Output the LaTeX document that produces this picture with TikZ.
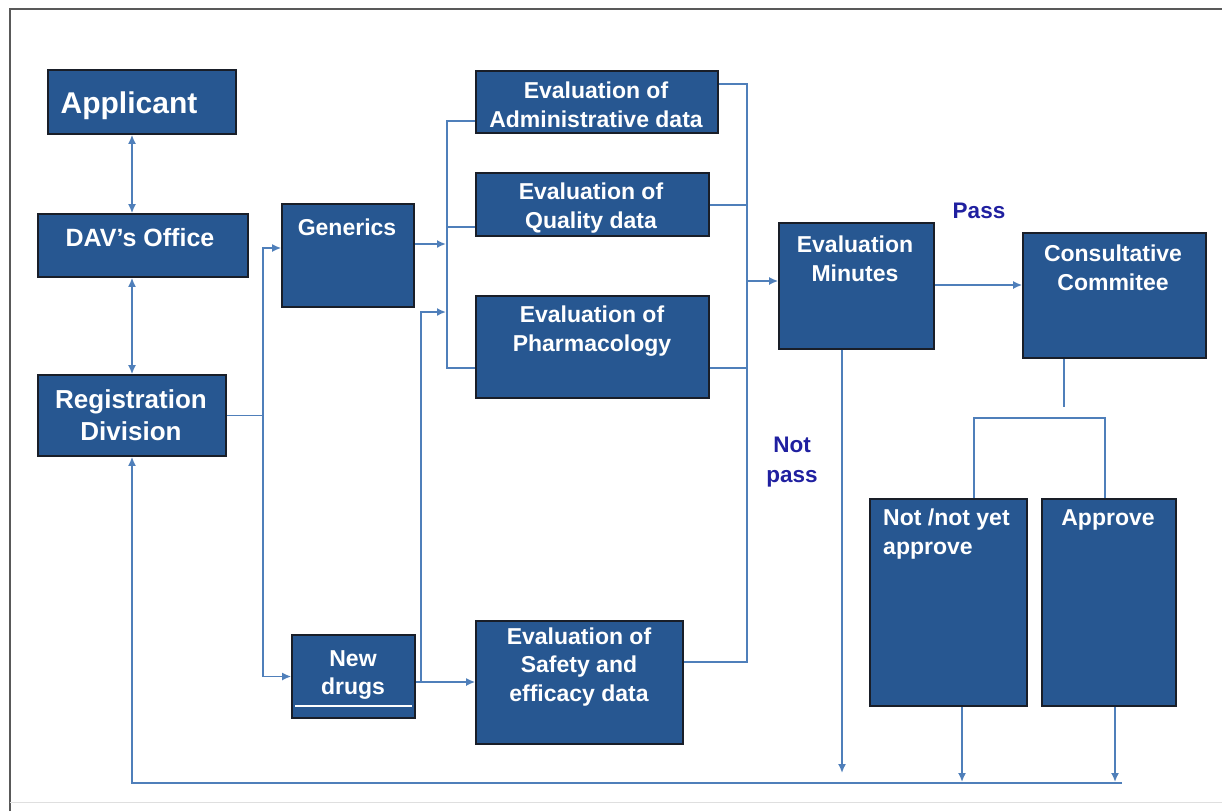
\documentclass[tikz,border=0pt]{standalone}
\usepackage{fontspec}
\setmainfont{Liberation Sans}
\usetikzlibrary{arrows.meta}
\definecolor{boxblue}{RGB}{39,87,145}
\definecolor{boxedge}{RGB}{25,30,40}
\definecolor{linkblue}{RGB}{79,127,186}
\definecolor{tagblue}{RGB}{32,32,160}
\tikzset{
  box/.style={draw=boxedge, line width=1.6pt, fill=boxblue, inner sep=0pt},
  txt/.style={text=white, inner sep=0pt, align=center},
  conn/.style={draw=linkblue, line width=1.7pt},
  tag/.style={text=tagblue, inner sep=0pt, align=center,
    font=\fontsize{22.5}{30}\selectfont\bfseries},
  >={Latex[length=9pt,width=8pt]}
}
\newcommand{\fs}[2]{\fontsize{#1}{#2}\selectfont\bfseries}
\begin{document}
\begin{tikzpicture}[x=1pt,y=-1pt]
\useasboundingbox (0,0) rectangle (1222,811);
% frame
\draw[gray!70!black, line width=1.5pt] (10,811) -- (10,9) -- (1222,9);
\draw[gray!25, line width=1pt] (10,802) -- (1222,802);

% boxes
\node[box, minimum width=188, minimum height=64]  (applicant) at (142,102) {};
\node[box, minimum width=210, minimum height=63]  (dav)       at (143,245.5) {};
\node[box, minimum width=188, minimum height=81]  (reg)       at (132,415.5) {};
\node[box, minimum width=132, minimum height=103] (gen)       at (348,255.5) {};
\node[box, minimum width=123, minimum height=83]  (newd)      at (353.5,676.5) {};
\node[box, minimum width=242, minimum height=62]  (admin)     at (597,102) {};
\node[box, minimum width=233, minimum height=63]  (qual)      at (592.5,204.5) {};
\node[box, minimum width=233, minimum height=102] (pharm)     at (592.5,347) {};
\node[box, minimum width=207, minimum height=123] (safety)    at (579.5,682.5) {};
\node[box, minimum width=155, minimum height=126] (minutes)   at (856.5,286) {};
\node[box, minimum width=183, minimum height=125] (consult)   at (1114.5,295.5) {};
\node[box, minimum width=157, minimum height=207] (notap)     at (948.5,602.5) {};
\node[box, minimum width=134, minimum height=207] (approve)   at (1109,602.5) {};
% white rule inside the New drugs box
\draw[white, line width=1.4pt] (295,706) -- (412,706);

% box texts
\node[txt, font=\fs{30}{36}] (tApp) at (129,106) {Applicant};
\node[txt, font=\fs{25}{30}] (tDav) at (140,238) {DAV’s Office};
\node[txt, font=\fs{26}{32}] (tReg) at (131,415) {Registration\\Division};
\node[txt, font=\fs{23}{28}] (tGen) at (347,227) {Generics};
\node[txt, font=\fs{23}{28}] (tNew) at (353,675) {New\\drugs};
\node[txt, font=\fs{23}{29}] (tAdmin) at (596,105) {Evaluation of\\Administrative data};
\node[txt, font=\fs{23}{29}] (tQual) at (591,208) {Evaluation of\\Quality data};
\node[txt, font=\fs{23}{29}] (tPharm) at (592,331) {Evaluation of\\Pharmacology};
\node[txt, font=\fs{23}{28.5}] (tSafe) at (579,667) {Evaluation of\\Safety and\\efficacy data};
\node[txt, font=\fs{23}{29}] (tMin) at (855,259) {Evaluation\\Minutes};
\node[txt, font=\fs{23}{29}] (tCons) at (1113,268) {Consultative\\Commitee};
\node[txt, font=\fs{23}{29}, align=left, anchor=west] (tNot) at (883,534) {Not /not yet\\approve};
\node[txt, font=\fs{23}{29}] (tAppr) at (1108,520) {Approve};

% branch labels
\node[tag] (tPass) at (979,211) {Pass};
\node[tag] (tNotPass) at (792,462) {Not\\pass};

% junction points
\coordinate (jTop) at (263,248);
\coordinate (jBot) at (263,676.5);
\coordinate (gOut) at (446,244);
\coordinate (busA) at (447,121);
\coordinate (busQ) at (447,227);
\coordinate (busP) at (447,368);
\coordinate (ndOut) at (421,682);
\coordinate (ndUp) at (421,312);
\coordinate (ndIn) at (446,312);
\coordinate (rTop) at (747,84);
\coordinate (rQ) at (747,205);
\coordinate (rP) at (747,368);
\coordinate (rMid) at (747,281);
\coordinate (rBot) at (747,662);
\coordinate (mDrop) at (842,773);
\coordinate (cDrop) at (1064,407);
\coordinate (brL) at (974,418);
\coordinate (brR) at (1105,418);
\coordinate (nDrop) at (962,782);
\coordinate (aDrop) at (1115,782);
\coordinate (bEnd) at (1122,783);
\coordinate (bCorner) at (132,783);

% connectors
\draw[conn,<->] (applicant.south -| reg.north) -- (dav.north -| reg.north);
\draw[conn,<->] (dav.south -| reg.north) -- (reg.north);
\draw[conn,->] (reg.east) -| (jTop) -- (gen.west |- jTop);
\draw[conn,->] (reg.east) -| (jBot) -- (newd.west |- jBot);
\draw[conn,->] (gen.east |- gOut) -- (gOut);
\draw[conn] (admin.west |- busA) -- (busA) -- (busP) -- (pharm.west |- busP);
\draw[conn] (busQ) -- (qual.west |- busQ);
\draw[conn,->] (newd.east |- ndOut) -- (safety.west |- ndOut);
\draw[conn,->] (ndOut) -- (ndUp) -- (ndIn);
\draw[conn] (admin.east |- rTop) -- (rTop) -- (rBot) -- (safety.east |- rBot);
\draw[conn] (qual.east |- rQ) -- (rQ);
\draw[conn] (pharm.east |- rP) -- (rP);
\draw[conn,->] (rMid) -- (minutes.west |- rMid);
\draw[conn,->] (minutes.east |- 0,285) -- (consult.west |- 0,285);
\draw[conn,->] (minutes.south -| mDrop) -- (mDrop);
\draw[conn] (consult.south -| cDrop) -- (cDrop);
\draw[conn] (notap.north -| brL) -- (brL) -- (brR) -- (approve.north -| brR);
\draw[conn,->] (notap.south -| nDrop) -- (nDrop);
\draw[conn,->] (approve.south -| aDrop) -- (aDrop);
\draw[conn,->] (bEnd) -- (bCorner) -- (reg.south);
\end{tikzpicture}
\end{document}
